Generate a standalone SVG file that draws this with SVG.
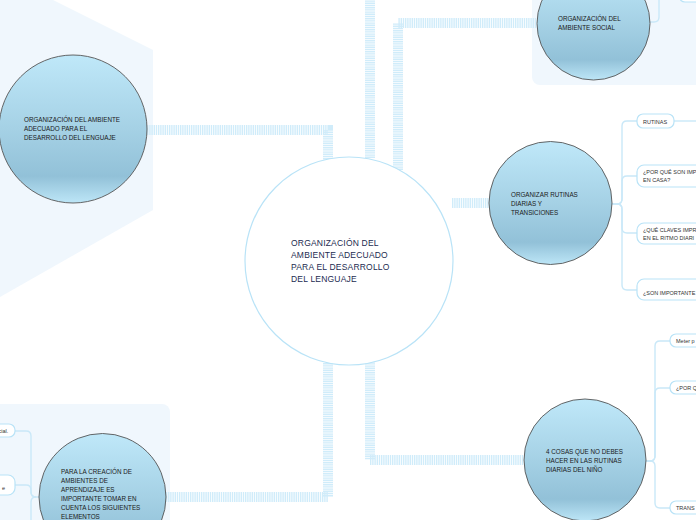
<svg xmlns="http://www.w3.org/2000/svg" width="696" height="520" viewBox="0 0 696 520">
<defs>
<linearGradient id="g" x1="0" y1="0" x2="0" y2="1">
<stop offset="0" stop-color="#bfe8f9"/>
<stop offset="0.5" stop-color="#a5d1e5"/>
<stop offset="0.82" stop-color="#92c1d8"/>
<stop offset="1" stop-color="#bde6f7"/>
</linearGradient>
<style>
.bg{fill:#f0f7fd}
.node{fill:url(#g);stroke:#555;stroke-width:0.9}
.t{font-family:"Liberation Sans",Arial,sans-serif;fill:#1a1a1a;font-size:6.3px}
.ct{font-family:"Liberation Sans",Arial,sans-serif;fill:#1c2b50;font-size:8.5px;letter-spacing:0.2px}
.bt{font-family:"Liberation Sans",Arial,sans-serif;fill:#333;font-size:5.5px}
.band{fill:none;stroke:#d0ecfa;stroke-width:10;stroke-dasharray:1.4 0.8}
.br{fill:none;stroke:#c9e8f8;stroke-width:1.4}
.box{fill:#fff;stroke:#b9e3f7;stroke-width:1.2}
</style>
</defs>
<rect width="696" height="520" fill="#fff"/>
<polygon class="bg" points="0,0 53,0 153,50 153,210 0,297"/>
<rect class="bg" x="532" y="-20" width="200" height="105" rx="8"/>
<rect class="bg" x="-20" y="404" width="190" height="140" rx="8"/>

<g id="connectors">
<path class="band" d="M147,130 H328 V160"/>
<path class="band" d="M370,158 V-10"/>
<path class="band" d="M398,170 V23 H537"/>
<path class="band" d="M452,203 H490"/>
<path class="band" d="M370,361 V460 H525"/>
<path class="band" d="M328,363 V497 H166"/>
<path class="br" d="M650,22 H654 Q659,22 659,17 V-5"/>
<path class="br" d="M612,204 H617 Q622,204 622,199 V126 Q622,121 627,121 H637"/>
<path class="br" d="M617,204 Q622,204 622,199 V181 Q622,176 627,176 H637"/>
<path class="br" d="M612,204 H617 Q622,204 622,209 V228 Q622,233 627,233 H637"/>
<path class="br" d="M617,204 Q622,204 622,209 V285 Q622,290 627,290 H637"/>
<path class="br" d="M674,121 H700"/>
<path class="br" d="M646,461 H650 Q655,461 655,456 V346 Q655,341 660,341 H670"/>
<path class="br" d="M650,461 Q655,461 655,456 V393 Q655,388 660,388 H670"/>
<path class="br" d="M646,461 H650 Q655,461 655,466 V503 Q655,508 660,508 H670"/>
<path class="br" d="M39,497 H36 Q31,497 31,492 V436 Q31,431 26,431 H15"/>
<path class="br" d="M36,497 Q31,497 31,492 V490 Q31,485 26,485 H15"/>
<path class="br" d="M36,497 Q31,497 31,502 V530"/>
</g>

<g id="central">
<circle cx="349" cy="261" r="104" fill="#fff" stroke="#b9e3f7" stroke-width="1.2"/>
<text class="ct" x="291" y="246">ORGANIZACIÓN DEL</text>
<text class="ct" x="291" y="258">AMBIENTE ADECUADO</text>
<text class="ct" x="291" y="270">PARA EL DESARROLLO</text>
<text class="ct" x="291" y="282">DEL LENGUAJE</text>
</g>

<g id="node-left">
<circle class="node" cx="73" cy="129" r="74"/>
<text class="t" x="24" y="122">ORGANIZACIÓN DEL AMBIENTE</text>
<text class="t" x="24" y="131">ADECUADO PARA EL</text>
<text class="t" x="24" y="140">DESARROLLO DEL LENGUAJE</text>
</g>

<g id="node-social">
<circle class="node" cx="593.5" cy="23.5" r="56.5"/>
<text class="t" x="558" y="21">ORGANIZACIÓN DEL</text>
<text class="t" x="558" y="30">AMBIENTE SOCIAL</text>
</g>
<g id="social-child">
<rect class="box" x="679" y="-20" width="40" height="22" rx="6"/>
</g>

<g id="node-rutinas">
<circle class="node" cx="550.5" cy="203" r="61.5"/>
<text class="t" x="511" y="197">ORGANIZAR RUTINAS</text>
<text class="t" x="511" y="206">DIARIAS Y</text>
<text class="t" x="511" y="215">TRANSICIONES</text>
</g>
<g id="rutinas-c1">
<rect class="box" x="637" y="114" width="37" height="14" rx="6"/>
<text class="bt" x="643" y="123.5">RUTINAS</text>
</g>
<g id="rutinas-c2">
<rect class="box" x="637" y="165" width="80" height="22" rx="7"/>
<text class="bt" x="643" y="174">¿POR QUÉ SON IMP</text>
<text class="bt" x="643" y="181.5">EN CASA?</text>
</g>
<g id="rutinas-c3">
<rect class="box" x="637" y="223" width="80" height="21" rx="7"/>
<text class="bt" x="643" y="232">¿QUÉ CLAVES IMPR</text>
<text class="bt" x="643" y="239.5">EN EL RITMO DIARI</text>
</g>
<g id="rutinas-c4">
<rect class="box" x="637" y="279" width="80" height="21" rx="7"/>
<text class="bt" x="643" y="295">¿SON IMPORTANTE</text>
</g>

<g id="node-cosas">
<circle class="node" cx="585" cy="460" r="61"/>
<text class="t" x="546" y="454">4 COSAS QUE NO DEBES</text>
<text class="t" x="546" y="463">HACER EN LAS RUTINAS</text>
<text class="t" x="546" y="472">DIARIAS DEL NIÑO</text>
</g>
<g id="cosas-c1">
<rect class="box" x="670" y="334" width="40" height="13" rx="6"/>
<text class="bt" x="676" y="343">Meter p</text>
</g>
<g id="cosas-c2">
<rect class="box" x="670" y="381" width="40" height="13" rx="6"/>
<text class="bt" x="676" y="390">¿POR Q</text>
</g>
<g id="cosas-c3">
<rect class="box" x="670" y="501" width="40" height="13" rx="6"/>
<text class="bt" x="676" y="510">TRANS</text>
</g>

<g id="node-creacion">
<circle class="node" cx="102.5" cy="497" r="63.5"/>
<text class="t" x="61" y="474">PARA LA CREACIÓN DE</text>
<text class="t" x="61" y="483">AMBIENTES DE</text>
<text class="t" x="61" y="492">APRENDIZAJE ES</text>
<text class="t" x="61" y="501">IMPORTANTE TOMAR EN</text>
<text class="t" x="61" y="510">CUENTA LOS SIGUIENTES</text>
<text class="t" x="61" y="519">ELEMENTOS</text>
</g>
<g id="creacion-c1">
<rect class="box" x="-30" y="424" width="45" height="13" rx="6"/>
<text class="bt" x="-1.5" y="433">cial.</text>
</g>
<g id="creacion-c2">
<rect class="box" x="-30" y="475" width="45" height="20" rx="7"/>
<text class="bt" x="2" y="490">e</text>
</g>
</svg>
